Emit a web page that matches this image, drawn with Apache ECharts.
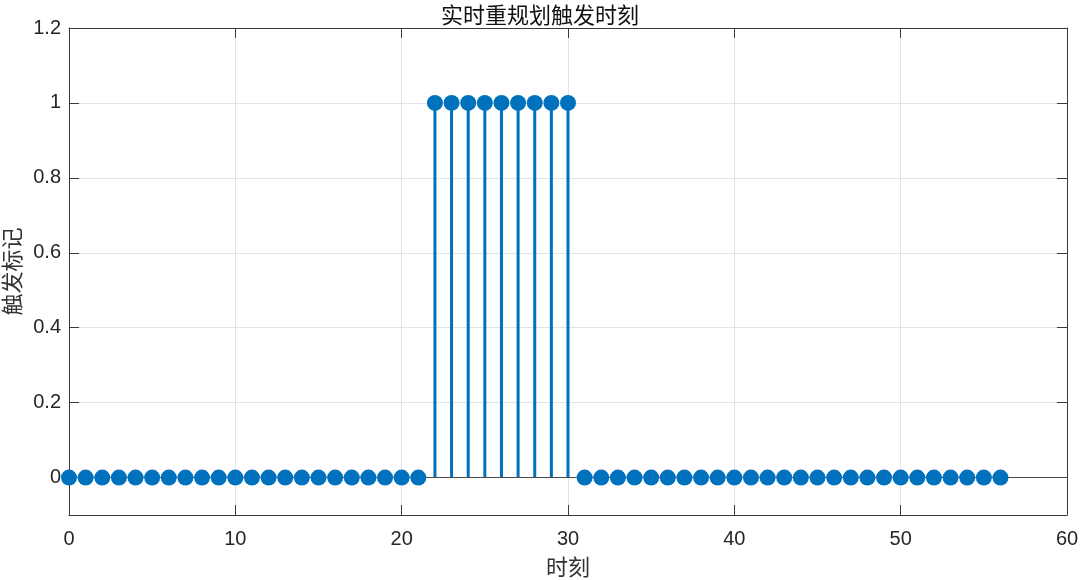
<!DOCTYPE html>
<html>
<head>
<meta charset="utf-8">
<script src="https://cdn.jsdelivr.net/npm/echarts@6/dist/echarts.min.js"></script>
<style>
  html, body { margin: 0; padding: 0; background: #fff; }
  #chart { width: 1080px; height: 580px; }
</style>
</head>
<body>
<div id="chart"></div>
<script>
// 时刻
var steps = [0, 1, 2, 3, 4, 5, 6, 7, 8, 9, 10, 11, 12, 13, 14, 15, 16, 17, 18, 19,
  20, 21, 22, 23, 24, 25, 26, 27, 28, 29, 30, 31, 32, 33, 34, 35, 36, 37, 38, 39,
  40, 41, 42, 43, 44, 45, 46, 47, 48, 49, 50, 51, 52, 53, 54, 55, 56];
// 触发标记
var flags = [0, 0, 0, 0, 0, 0, 0, 0, 0, 0, 0, 0, 0, 0, 0, 0, 0, 0, 0, 0,
  0, 0, 1, 1, 1, 1, 1, 1, 1, 1, 1, 0, 0, 0, 0, 0, 0, 0, 0, 0,
  0, 0, 0, 0, 0, 0, 0, 0, 0, 0, 0, 0, 0, 0, 0, 0, 0];

var titleText = "实时重规划触发时刻";
var xName = "时刻";
var yName = "触发标记";

var stemColor = "#0072BD";
var axisColor = "#3a3a3a";
var textColor = "#262626";
var cjk = "'Noto Sans CJK SC', sans-serif";
var num = "'Liberation Sans', Arial, sans-serif";

var pts = steps.map(function(x, i) { return [x, flags[i]]; });

var myChart = echarts.init(document.getElementById("chart"));
var option = {
  animation: false,
  title: {
    text: titleText,
    left: "center",
    top: -1,
    textStyle: { color: "#111", fontWeight: "normal", fontSize: 22, fontFamily: cjk }
  },
  grid: { left: 69, right: 13, top: 28, bottom: 65, outerBoundsMode: "none", containLabel: false },
  xAxis: [
    {
      type: "value",
      min: 0,
      max: 60,
      interval: 10,
      name: xName,
      nameLocation: "middle",
      nameGap: 41,
      nameTextStyle: { color: "#333", fontSize: 22, fontFamily: cjk },
      axisLine: { onZero: false, lineStyle: { color: axisColor, width: 1 } },
      axisTick: { inside: true, length: 10, lineStyle: { color: axisColor } },
      axisLabel: { color: textColor, fontSize: 20, margin: 14, fontFamily: num },
      splitLine: { show: true, lineStyle: { color: "#e3e3e3", width: 1 } }
    },
    {
      type: "value",
      position: "top",
      min: 0,
      max: 60,
      interval: 10,
      axisLine: { onZero: false, lineStyle: { color: axisColor, width: 1 } },
      axisTick: { inside: true, length: 10, lineStyle: { color: axisColor } },
      axisLabel: { show: false },
      splitLine: { show: false }
    }
  ],
  yAxis: [
    {
      type: "value",
      min: -0.1,
      max: 1.2,
      minInterval: 0.2,
      maxInterval: 0.2,
      name: yName,
      nameLocation: "middle",
      nameGap: 45,
      nameTextStyle: { color: "#333", fontSize: 22, fontFamily: cjk },
      axisLine: { show: true, onZero: false, lineStyle: { color: axisColor, width: 1 } },
      axisTick: { show: true, inside: true, length: 10, lineStyle: { color: axisColor } },
      axisLabel: {
        color: textColor,
        fontSize: 20,
        margin: 8,
        fontFamily: num,
        showMinLabel: false,
        formatter: function(v) { return v < -0.05 ? "" : String(Math.round(v * 10) / 10); }
      },
      splitLine: { show: true, lineStyle: { color: "#e3e3e3", width: 1 } }
    },
    {
      type: "value",
      position: "right",
      min: -0.1,
      max: 1.2,
      minInterval: 0.2,
      maxInterval: 0.2,
      axisLine: { show: true, onZero: false, lineStyle: { color: axisColor, width: 1 } },
      axisTick: { show: true, inside: true, length: 10, lineStyle: { color: axisColor } },
      axisLabel: { show: false },
      splitLine: { show: false }
    }
  ],
  series: [
    {
      type: "bar",
      xAxisIndex: 0,
      yAxisIndex: 0,
      data: pts,
      barWidth: 3,
      itemStyle: { color: stemColor },
      z: 3,
      markLine: {
        silent: true,
        symbol: "none",
        label: { show: false },
        lineStyle: { color: "#4a4a4a", width: 1.2, type: "solid" },
        data: [{ yAxis: 0 }]
      }
    },
    {
      type: "scatter",
      xAxisIndex: 0,
      yAxisIndex: 0,
      data: pts,
      symbol: "circle",
      symbolSize: 16,
      itemStyle: { color: stemColor, opacity: 1 },
      z: 5
    }
  ]
};
myChart.setOption(option);
</script>
</body>
</html>
